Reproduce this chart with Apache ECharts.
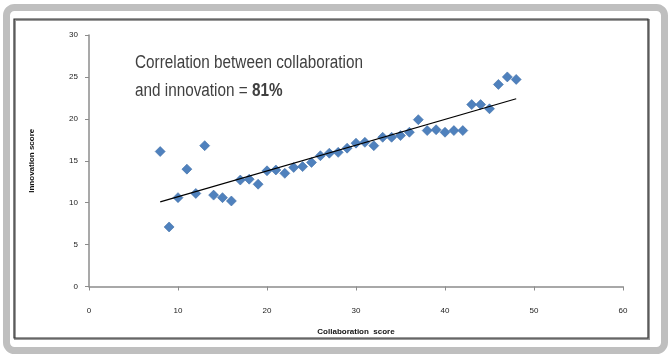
<!DOCTYPE html>
<html>
<head>
<meta charset="utf-8">
<script src="https://cdn.jsdelivr.net/npm/echarts@6/dist/echarts.min.js"></script>
<style>
html,body{margin:0;padding:0;background:#fff;}
#c{width:671px;height:358px;}
</style>
</head>
<body>
<div id="c"></div>
<script>
var collaboration = [8,9,10,11,12,13,14,15,16,17,18,19,20,21,22,23,24,25,26,27,28,29,30,31,32,33,34,35,36,37,38,39,40,41,42,43,44,45,46,47,48];
var innovation = [16.1,7.1,10.6,14.0,11.1,16.8,10.9,10.6,10.2,12.7,12.8,12.2,13.8,13.9,13.5,14.2,14.3,14.8,15.6,15.9,16.0,16.5,17.1,17.2,16.8,17.8,17.8,18.0,18.4,19.9,18.6,18.7,18.4,18.6,18.6,21.7,21.7,21.2,24.1,25.0,24.7];
var trendX = [8,48];
var trendY = [10.1,22.4];
var xTicks = [0,10,20,30,40,50,60];
var yTicks = [0,5,10,15,20,25,30];

var pts = collaboration.map(function(x,i){return [x, innovation[i]];});
var trend = trendX.map(function(x,i){return [x, trendY[i]];});

var chart = echarts.init(document.getElementById('c'));
var fam = 'Liberation Sans Narrow, Liberation Sans, Arial, sans-serif';
var tickFont = {fontFamily:fam, fontSize:8, color:'#222'};
chart.setOption({
  animation:false,
  grid:{left:89,right:48,top:35,bottom:71.5},
  xAxis:{
    type:'value', min:xTicks[0], max:xTicks[xTicks.length-1], interval:10,
    name:'Collaboration  score', nameLocation:'middle', nameGap:41,
    nameTextStyle:{fontFamily:fam, fontSize:8, fontWeight:'bold', color:'#111'},
    axisLine:{lineStyle:{color:'#8c8c8c',width:1.5}},
    axisTick:{show:true,length:4,lineStyle:{color:'#8c8c8c'}},
    axisLabel:Object.assign({margin:20},tickFont),
    splitLine:{show:false}
  },
  yAxis:{
    type:'value', min:yTicks[0], max:yTicks[yTicks.length-1], interval:5,
    name:'Innovation score', nameLocation:'middle', nameGap:53,
    nameTextStyle:{fontFamily:fam, fontSize:8, fontWeight:'bold', color:'#111'},
    axisLine:{show:true,lineStyle:{color:'#8c8c8c',width:1.5}},
    axisTick:{show:true,length:4,lineStyle:{color:'#8c8c8c'}},
    axisLabel:Object.assign({margin:11},tickFont),
    splitLine:{show:false}
  },
  graphic:[
    {type:'rect', shape:{x:6.5,y:7.5,width:658,height:343,r:8}, style:{fill:'none',stroke:'#bfbfbf',lineWidth:7}, silent:true, z:-10},
    {type:'rect', shape:{x:15,y:20,width:634,height:319}, style:{fill:'none',stroke:'#9a9a9a',lineWidth:2}, silent:true, z:-9},
    {type:'rect', shape:{x:14,y:19,width:634,height:319}, style:{fill:'none',stroke:'#333',lineWidth:1.2}, silent:true, z:-8},
    {type:'text', x:135, y:49, scaleX:0.85, scaleY:1, style:{
      text:'Correlation between collaboration\n{n|and innovation = }{b|81%}',
      fontFamily:'Liberation Sans, Arial, sans-serif', fontSize:18, lineHeight:28, fill:'#404040',
      rich:{
        n:{fontFamily:'Liberation Sans, Arial, sans-serif', fontSize:18, color:'#404040', lineHeight:28},
        b:{fontFamily:'Liberation Sans, Arial, sans-serif', fontSize:18, fontWeight:'bold', color:'#404040', lineHeight:28}
      }
    }}
  ],
  series:[
    {type:'scatter', data:pts, symbol:'diamond', symbolSize:10,
     itemStyle:{color:'#4f81bd', borderColor:'#3f6ea8', borderWidth:0.6, opacity:1}, z:3},
    {type:'line', data:trend, symbol:'none', lineStyle:{color:'#000',width:1.2}, z:4}
  ]
});
</script>
</body>
</html>
